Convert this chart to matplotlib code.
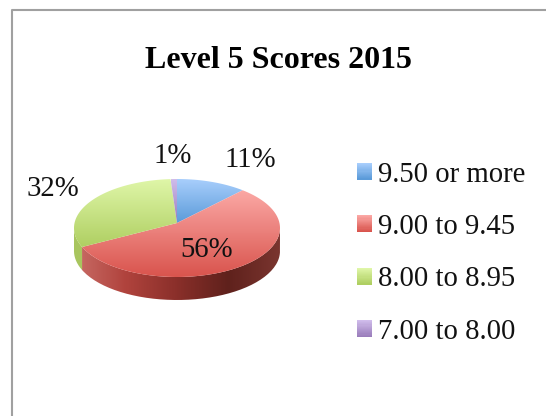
import numpy as np
import matplotlib
matplotlib.use("Agg")
import matplotlib.pyplot as plt
from matplotlib.colors import LinearSegmentedColormap, to_rgb
from matplotlib.legend_handler import HandlerBase
from matplotlib.lines import Line2D
from matplotlib.patches import PathPatch, Patch, Rectangle
from matplotlib.path import Path

title = "Level 5 Scores 2015"
categories = ["9.50 or more", "9.00 to 9.45", "8.00 to 8.95", "7.00 to 8.00"]
values = [11, 56, 32, 1]
pct_labels = ["11%", "56%", "32%", "1%"]
top_colors = ["#A8CEFC", "#FBA8A5", "#DFF6A8", "#D0BCEB"]
bottom_colors = ["#5B9BD9", "#D9544D", "#AFCF62", "#9A7DBB"]
side_stops = [
    ["#5B9BD9", "#3A6FA5"],
    ["#C96C66", "#B0433D", "#8A2F2A", "#5F211C", "#7A352F"],
    ["#A9C65F", "#8BA745"],
    ["#9A7DBB", "#6F5590"],
]
label_px = [(250, 160), (207, 250), (53, 189), (173, 156)]

W, H = 546, 416
CX, CY, RX, RY = 177, 228, 103, 49
APEX_DY = 5 / RY
DEPTH = 23 / RY

plt.rcParams["font.family"] = ["Liberation Serif", "DejaVu Serif"]
FS = 20.7
FS_TITLE = 23

fig = plt.figure(figsize=(W / 100, H / 100), dpi=100, facecolor="white")
ax = fig.add_axes([0, 0, 1, 1])


def to_data(px, py):
    return (px - CX) / RX, (CY - py) / RY


def warp(t):
    # perspective: the front-left of the disc appears stretched
    return t - 6 * np.exp(-((t + 151) / 40) ** 2)


wedges, texts = ax.pie(values, labels=pct_labels, startangle=90, counterclock=False,
                       colors=bottom_colors, wedgeprops={"linewidth": 0, "zorder": 1})
ax.set_aspect("auto")
xlim = ((0 - CX) / RX, (W - CX) / RX)
ylim = ((CY - H) / RY, CY / RY)


def vertical_gradient(path, c_top, c_bot, z):
    cmap = LinearSegmentedColormap.from_list("g", [c_top, c_bot])
    ext = path.get_extents()
    im = ax.imshow(np.linspace(0, 1, 128)[:, None], cmap=cmap, aspect="auto",
                   extent=(ext.x0, ext.x1, ext.y0, ext.y1), zorder=z, interpolation="bilinear")
    patch = PathPatch(path, transform=ax.transData, fc="none", ec="none")
    ax.add_patch(patch)
    im.set_clip_path(patch)


def side_path(t0, t1):
    t = np.radians(np.linspace(t0, t1, 80))
    x, y = np.cos(t), np.sin(t)
    return Path(np.r_[np.c_[x, y], np.c_[x, y - DEPTH][::-1], [[x[0], y[0]]]])


# extruded rim
for w, stops in zip(wedges, side_stops):
    for k in (-360, 0, 360):
        a, b = max(warp(w.theta1 + k), -180), min(warp(w.theta2 + k), 0)
        if b > a:
            path = side_path(a, b)
            cmap = LinearSegmentedColormap.from_list("s", stops)
            ext = path.get_extents()
            u = np.linspace((ext.x0 + 1) / 2, (ext.x1 + 1) / 2, 256)[None, :]
            im = ax.imshow(u, cmap=cmap, vmin=0, vmax=1, aspect="auto",
                           extent=(ext.x0, ext.x1, ext.y0, ext.y1), zorder=2,
                           interpolation="bilinear")
            patch = PathPatch(path, transform=ax.transData, fc="none", ec="none")
            ax.add_patch(patch)
            im.set_clip_path(patch)

# top faces with the apex pushed back for perspective
for w, c_top, c_bot in zip(wedges, top_colors, bottom_colors):
    span = np.linspace(w.theta1, w.theta2, 100)
    t = np.radians(warp(span if span.min() < 0 else span - 360))
    verts = np.r_[[[0, APEX_DY]], np.c_[np.cos(t), np.sin(t)], [[0, APEX_DY]]]
    vertical_gradient(Path(verts), c_top, c_bot, 3)
    w.set_visible(False)

for txt, (px, py) in zip(texts, label_px):
    txt.set_position(to_data(px, py))
    txt.set_ha("center")
    txt.set_va("center")
    txt.set_fontsize(FS)
    txt.set_color("#111111")
    txt.set_zorder(5)

ax.set_xlim(*xlim)
ax.set_ylim(*ylim)
ax.set_frame_on(False)
ax.set_xticks([])
ax.set_yticks([])

ax.text(*to_data(278.5, 60), title, ha="center", va="center", fontsize=FS_TITLE,
        fontweight="bold", color="#000000", zorder=5)

# chart border, running off the right and bottom edges
bx, by = to_data(12, 416), to_data(12, 10)
ex = to_data(546, 10)
ax.add_line(Line2D([bx[0], by[0], ex[0]], [bx[1], by[1], ex[1]], color="#A0A0A0", lw=1.5, zorder=0))


class GradientHandler(HandlerBase):
    def __init__(self, c_top, c_bot):
        super().__init__()
        self.c_top, self.c_bot = np.array(to_rgb(c_top)), np.array(to_rgb(c_bot))

    def create_artists(self, legend, orig_handle, xdescent, ydescent, width, height, fontsize, trans):
        n = 15
        out = []
        for i in range(n):
            c = self.c_top + (self.c_bot - self.c_top) * i / (n - 1)
            out.append(Rectangle((-xdescent, -ydescent + height * (n - 1 - i) / n), width, height / n + 0.2,
                                 fc=c, ec="none", transform=trans))
        return out


handles = [Patch(label=c) for c in categories]
hmap = {h: GradientHandler(t, b) for h, t, b in zip(handles, top_colors, bottom_colors)}
leg = fig.legend(handles=handles, handler_map=hmap, loc="upper left",
                 bbox_to_anchor=(357 / W, 1 - 161.5 / H), bbox_transform=fig.transFigure,
                 frameon=False, fontsize=FS, labelspacing=0.92, borderpad=0, borderaxespad=0,
                 handlelength=0.52, handleheight=0.52, handletextpad=0.2)
for t in leg.get_texts():
    t.set_color("#111111")

fig.savefig("out.png", dpi=100)
